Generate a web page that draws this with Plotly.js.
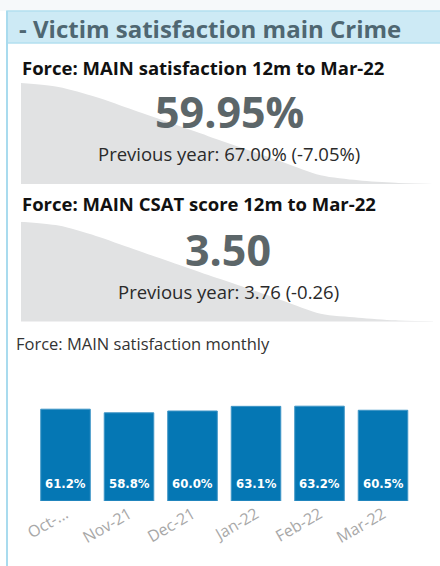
<!DOCTYPE html>
<html>
<head>
<meta charset="utf-8">
<script src="https://cdn.plot.ly/plotly-3.0.1.min.js"></script>
<style>
html,body{margin:0;padding:0;background:#fff;}
#chart{width:440px;height:566px;}
</style>
</head>
<body>
<div id="chart"></div>
<script>
// ---- data ----
const sparkMonths = ["Apr-21","May-21","Jun-21","Jul-21","Aug-21","Sep-21","Oct-21","Nov-21","Dec-21","Jan-22","Feb-22","Mar-22"];
const satisfaction12m = [67.00, 66.72, 66.02, 65.11, 64.20, 63.29, 62.38, 61.47, 60.56, 60.21, 60.03, 59.95];
const csat12m = [3.760, 3.750, 3.723, 3.689, 3.655, 3.621, 3.588, 3.554, 3.520, 3.510, 3.503, 3.500];

const satisfactionValue = 59.95;
const satisfactionPrev = 67.00;
const csatValue = 3.50;
const csatPrev = 3.76;

const barMonths = ["Oct-21","Nov-21","Dec-21","Jan-22","Feb-22","Mar-22"];
const barTickLabels = ["Oct-...","Nov-21","Dec-21","Jan-22","Feb-22","Mar-22"];
const monthlySatisfaction = [61.2, 58.8, 60.0, 63.1, 63.2, 60.5];

const titleText = "- Victim satisfaction main Crime";
const heading1 = "Force: MAIN satisfaction 12m to Mar-22";
const heading2 = "Force: MAIN CSAT score 12m to Mar-22";
const heading3 = "Force: MAIN satisfaction monthly";

// ---- helpers ----
const W = 440, H = 566;
const px = v => v / W;
const py = v => 1 - v / H;
const FONT = "Open Sans, Noto Sans, sans-serif";

const traces = [
  {
    type: "scatter", x: sparkMonths, y: satisfaction12m, xaxis: "x", yaxis: "y",
    mode: "lines", line: {width: 0, shape: "spline", smoothing: 0.8},
    fill: "tozeroy", fillcolor: "#e1e2e3", hoverinfo: "skip", showlegend: false
  },
  {
    type: "scatter", x: sparkMonths, y: csat12m, xaxis: "x2", yaxis: "y2",
    mode: "lines", line: {width: 0, shape: "spline", smoothing: 0.8},
    fill: "tozeroy", fillcolor: "#e1e2e3", hoverinfo: "skip", showlegend: false
  },
  {
    type: "bar", x: barMonths, y: monthlySatisfaction, xaxis: "x3", yaxis: "y3",
    marker: {color: "#0577b4", line: {color: "#3f95c6", width: 1}},
    hoverinfo: "skip", showlegend: false
  }
];

const annotations = [
  {text: titleText, x: px(17), y: py(28.8), xanchor: "left", yanchor: "middle",
   font: {family: FONT, size: 24, color: "#4f6772", weight: 700}},
  {text: heading1, x: px(20), y: py(68), xanchor: "left", yanchor: "middle",
   font: {family: FONT, size: 18.5, color: "#111", weight: 700}},
  {text: satisfactionValue.toFixed(2) + "%", x: px(229), y: py(112), xanchor: "center", yanchor: "middle",
   font: {family: FONT, size: 43, color: "#5c6669", weight: 700}},
  {text: "Previous year: " + satisfactionPrev.toFixed(2) + "% (" + (satisfactionValue - satisfactionPrev).toFixed(2) + "%)",
   x: px(228.5), y: py(154), xanchor: "center", yanchor: "middle",
   font: {family: FONT, size: 18.5, color: "#2a2a2a"}},
  {text: heading2, x: px(20), y: py(203), xanchor: "left", yanchor: "middle",
   font: {family: FONT, size: 18.5, color: "#111", weight: 700}},
  {text: csatValue.toFixed(2), x: px(228), y: py(249.5), xanchor: "center", yanchor: "middle",
   font: {family: FONT, size: 43, color: "#5c6669", weight: 700}},
  {text: "Previous year: " + csatPrev.toFixed(2) + " (" + (csatValue - csatPrev).toFixed(2) + ")",
   x: px(228.5), y: py(291.5), xanchor: "center", yanchor: "middle",
   font: {family: FONT, size: 18.5, color: "#2a2a2a"}},
  {text: heading3, x: px(14), y: py(343.5), xanchor: "left", yanchor: "middle",
   font: {family: FONT, size: 16.5, color: "#333"}}
];

monthlySatisfaction.forEach((v, i) => {
  annotations.push({
    text: v.toFixed(1) + "%", x: barMonths[i], y: 0, xref: "x3", yref: "y3",
    xanchor: "center", yanchor: "bottom", yshift: 8, showarrow: false,
    font: {family: "DejaVu Sans Condensed, DejaVu Sans, sans-serif", size: 13, color: "#ffffff", weight: 700}
  });
});
annotations.forEach(a => { if (!a.xref) { a.xref = "paper"; a.yref = "paper"; a.showarrow = false; } });

const shapes = [
  {type: "rect", xref: "paper", yref: "paper", x0: 0, x1: 1, y0: py(11), y1: 1,
   fillcolor: "#f6f9fa", line: {width: 0}, layer: "below"},
  {type: "rect", xref: "paper", yref: "paper", x0: px(7), x1: px(441), y0: py(43), y1: py(11),
   fillcolor: "#cdeaf5", line: {color: "#b2dff0", width: 1.5}, layer: "below"},
  {type: "line", xref: "paper", yref: "paper", x0: px(7), x1: px(7), y0: 0, y1: py(11),
   line: {color: "#a9dbee", width: 2}}
];

const hiddenAxis = {showgrid: false, zeroline: false, showticklabels: false, showline: false, ticks: "", fixedrange: true};

const layout = {
  width: W, height: H,
  margin: {l: 0, r: 0, t: 0, b: 0},
  paper_bgcolor: "#ffffff", plot_bgcolor: "rgba(0,0,0,0)",
  showlegend: false,
  xaxis: Object.assign({}, hiddenAxis, {domain: [px(21), px(433)], type: "category", range: [0, sparkMonths.length - 1], anchor: "y"}),
  yaxis: Object.assign({}, hiddenAxis, {domain: [py(184), py(83)], range: [Math.min(...satisfaction12m), Math.max(...satisfaction12m)], anchor: "x"}),
  xaxis2: Object.assign({}, hiddenAxis, {domain: [px(21), px(433)], type: "category", range: [0, sparkMonths.length - 1], anchor: "y2"}),
  yaxis2: Object.assign({}, hiddenAxis, {domain: [py(321.5), py(221.7)], range: [Math.min(...csat12m), Math.max(...csat12m)], anchor: "x2"}),
  xaxis3: {domain: [px(33.75), px(414.75)], type: "category", anchor: "y3",
           showgrid: false, zeroline: false, showline: false, ticks: "",
           tickmode: "array", tickvals: barMonths, ticktext: barTickLabels, tickangle: -30,
           tickfont: {family: FONT, size: 16, color: "#a8a8a8"}, fixedrange: true},
  yaxis3: Object.assign({}, hiddenAxis, {domain: [py(501), py(357)], range: [0, 96], anchor: "x3"}),
  bargap: 0.22,
  annotations: annotations,
  shapes: shapes
};

Plotly.newPlot("chart", traces, layout, {displayModeBar: false, staticPlot: true});
</script>
</body>
</html>
